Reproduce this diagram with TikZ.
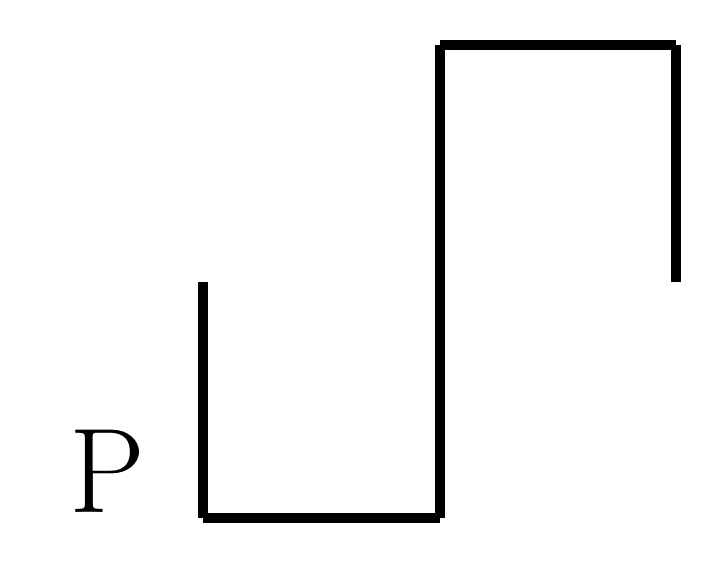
\documentclass[tikz,border=0pt]{standalone}
\begin{document}
\begin{tikzpicture}[x=1bp,y=-1bp,
  seg/.style={line width=9.5bp,line cap=butt,black}]
\useasboundingbox[fill=white] (0,0) rectangle (722,581);
\coordinate (a) at (203,282);
\coordinate (b) at (203,518);
\coordinate (c) at (440,518);
\coordinate (d) at (440,45);
\coordinate (e) at (676,45);
\coordinate (f) at (676,282);
\draw[seg] (a) -- (b);
\draw[seg] (b) -- (c);
\draw[seg] (c) -- (d);
\draw[seg] (d) -- (e);
\draw[seg] (e) -- (f);
\node[anchor=base west,inner sep=0pt,font=\fontsize{121}{121}\selectfont] (P) at (69,512) {P};
\end{tikzpicture}
\end{document}
